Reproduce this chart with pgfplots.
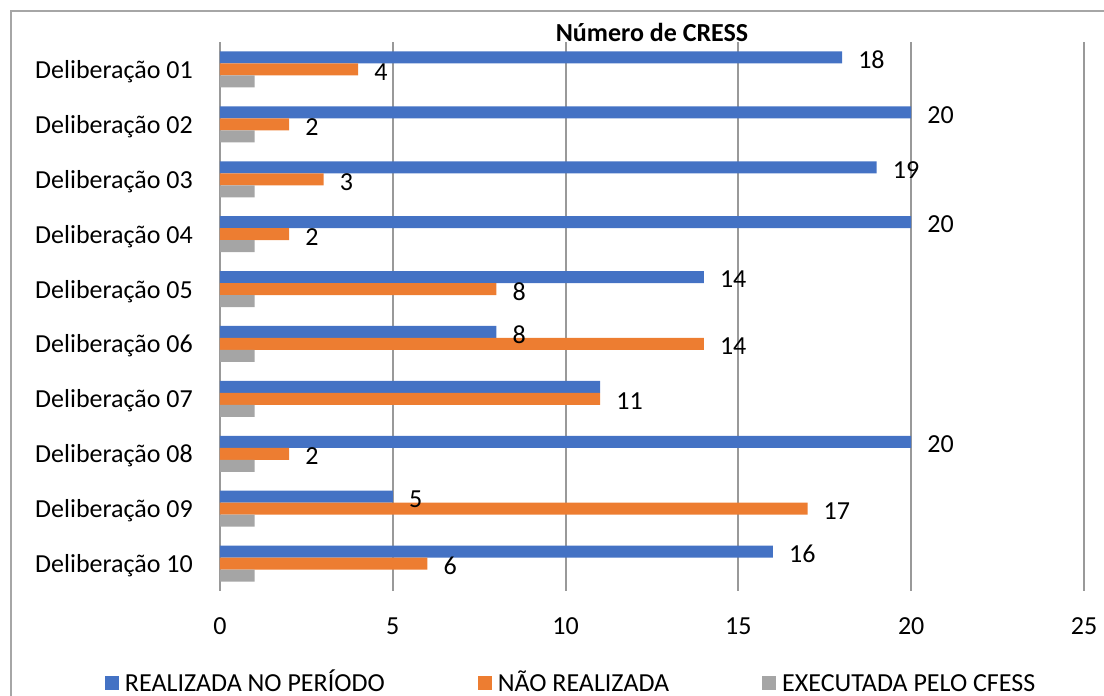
\documentclass[border=0pt]{standalone}
\usepackage{fontspec}
\setmainfont{Carlito}
\usepackage{pgfplots}
\pgfplotsset{compat=1.18}
\definecolor{cblue}{HTML}{4472C4}
\definecolor{corange}{HTML}{ED7D31}
\definecolor{cgray}{HTML}{A5A5A5}
\definecolor{gridc}{HTML}{999999}
\definecolor{framec}{HTML}{A6A6A6}
\newcommand{\f}{\fontsize{26}{31}\selectfont}
\begin{document}
\begin{tikzpicture}[x=1pt,y=1pt]
\useasboundingbox (0,0) rectangle (1104,696);
\draw[framec, line width=2.5pt] (11,-10) -- (11,685) -- (1120,685);
\begin{axis}[
  at={(220pt,105pt)}, anchor=south west,
  scale only axis, width=864pt, height=549pt,
  xmin=0, xmax=25, ymin=0.5, ymax=10.5, y dir=reverse,
  axis line style={draw=none},
  major tick length=0pt, tick style={draw=none},
  xtick={0,5,10,15,20,25},
  ytick={1,2,3,4,5,6,7,8,9,10},
  yticklabels={Deliberação 01,Deliberação 02,Deliberação 03,Deliberação 04,Deliberação 05,Deliberação 06,Deliberação 07,Deliberação 08,Deliberação 09,Deliberação 10},
  /pgf/number format/assume math mode=true,
  ticklabel style={font=\f, text=black},
  xticklabel style={anchor=base, yshift=-43pt, inner sep=0pt},
  yticklabel style={anchor=base east, xshift=-27pt, yshift=-9pt, inner sep=0pt},
  xmajorgrids, grid style={gridc, line width=2pt},
  xbar, bar width=12pt,
  title={Número de CRESS},
  title style={at={(0.5,1)}, anchor=base, yshift=-5pt, font=\bfseries\f, inner sep=0pt},
  legend columns=3,
  legend style={draw=none, fill=none, inner sep=0pt, outer sep=0pt,
    at={(-0.1331,-0.1675)}, anchor=west, font=\f,
    nodes={inner sep=0pt, anchor=west, text height=17pt, text depth=0pt},
    /tikz/every odd column/.append style={column sep=6pt},
    /tikz/every even column/.append style={column sep=93pt}},
  nodes near coords,
  nodes near coords style={anchor=west, xshift=16pt, yshift=-2.5pt, inner sep=0pt, font=\f, text=black},
]
\addplot[fill=cblue, draw=none, bar shift=12pt, point meta=explicit symbolic,
  legend image code/.code={\fill[cblue] (0pt,-7pt) rectangle (14pt,7pt);}]
  coordinates {(18,1) [18] (20,2) [20] (19,3) [19] (20,4) [20] (14,5) [14] (8,6) [8] (11,7) [{}] (20,8) [20] (5,9) [5] (16,10) [16]};
\addplot[fill=corange, draw=none, bar shift=0pt,
  legend image code/.code={\fill[corange] (0pt,-7pt) rectangle (14pt,7pt);}]
  coordinates {(4,1) (2,2) (3,3) (2,4) (8,5) (14,6) (11,7) (2,8) (17,9) (6,10)};
\addplot[fill=cgray, draw=none, bar shift=-12pt, nodes near coords=\empty,
  legend image code/.code={\fill[cgray] (0pt,-7pt) rectangle (14pt,7pt);}]
  coordinates {(1,1) (1,2) (1,3) (1,4) (1,5) (1,6) (1,7) (1,8) (1,9) (1,10)};
\legend{REALIZADA NO PERÍODO, NÃO REALIZADA, EXECUTADA PELO CFESS}
\end{axis}
\end{tikzpicture}
\end{document}
